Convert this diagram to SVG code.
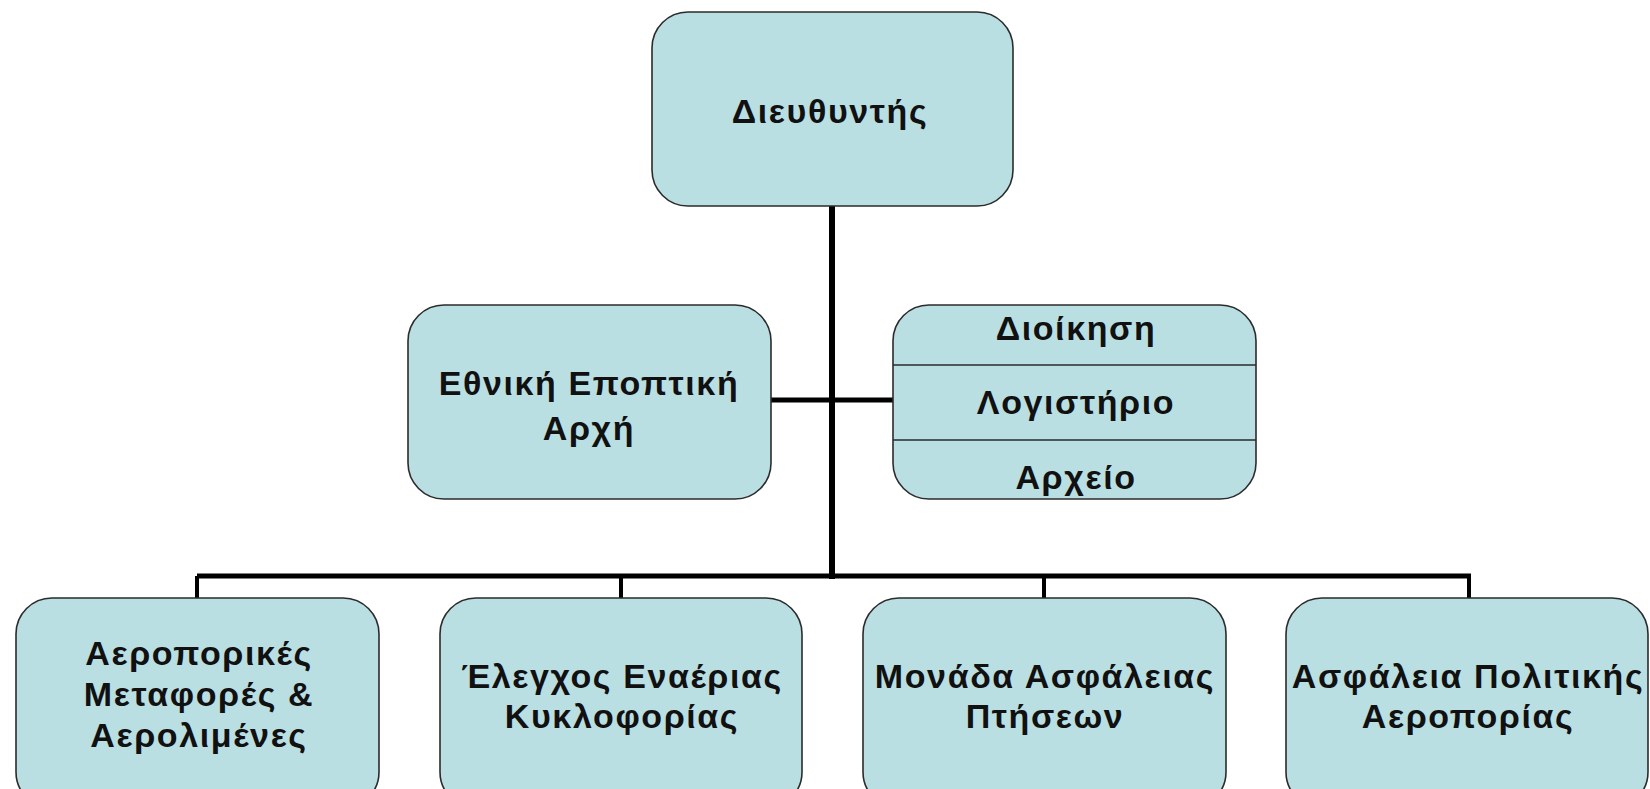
<svg xmlns="http://www.w3.org/2000/svg" width="1650" height="789" viewBox="0 0 1650 789">
<style>
.box{fill:#badfe3;stroke:#2b2b2b;stroke-width:1.6}
.t{font-family:"Liberation Sans",Arial,sans-serif;font-weight:bold;font-size:34px;letter-spacing:1.6px;fill:#111;text-anchor:middle;dominant-baseline:central}
.c{stroke:#000;fill:none}
.div{stroke:#2b2b2b;stroke-width:1.6}
</style>
<rect width="1650" height="789" fill="#fff"/>
<g id="connectors">
<line class="c" x1="832" y1="206" x2="832" y2="579" stroke-width="6"/>
<line class="c" x1="771" y1="400" x2="893" y2="400" stroke-width="5"/>
<line class="c" x1="197" y1="576" x2="1471" y2="576" stroke-width="5"/>
<line class="c" x1="197" y1="576" x2="197" y2="598" stroke-width="4"/>
<line class="c" x1="621" y1="576" x2="621" y2="598" stroke-width="4"/>
<line class="c" x1="1044" y1="576" x2="1044" y2="598" stroke-width="4"/>
<line class="c" x1="1469" y1="576" x2="1469" y2="598" stroke-width="4"/>
</g>
<g id="director">
<rect class="box" x="652" y="12" width="361" height="194" rx="36"/>
<text class="t" x="830" y="111">Διευθυντής</text>
</g>
<g id="eea">
<rect class="box" x="408" y="305" width="363" height="194" rx="36"/>
<text class="t" x="589" y="383">Εθνική Εποπτική</text>
<text class="t" x="589" y="428">Αρχή</text>
</g>
<g id="admin">
<rect class="box" x="893" y="305" width="363" height="194" rx="36"/>
<line class="div" x1="893" y1="365" x2="1256" y2="365"/>
<line class="div" x1="893" y1="440" x2="1256" y2="440"/>
<text class="t" x="1076" y="328">Διοίκηση</text>
<text class="t" x="1076" y="402">Λογιστήριο</text>
<text class="t" x="1076" y="477">Αρχείο</text>
</g>
<g id="n1">
<rect class="box" x="16" y="598" width="363" height="210" rx="36"/>
<text class="t" x="199" y="653">Αεροπορικές</text>
<text class="t" x="199" y="694">Μεταφορές &amp;</text>
<text class="t" x="199" y="735">Αερολιμένες</text>
</g>
<g id="n2">
<rect class="box" x="440" y="598" width="362" height="210" rx="36"/>
<text class="t" x="622" y="676">Έλεγχος Εναέριας</text>
<text class="t" x="622" y="716">Κυκλοφορίας</text>
</g>
<g id="n3">
<rect class="box" x="863" y="598" width="363" height="210" rx="36"/>
<text class="t" x="1045" y="676">Μονάδα Ασφάλειας</text>
<text class="t" x="1045" y="716">Πτήσεων</text>
</g>
<g id="n4">
<rect class="box" x="1286" y="598" width="362" height="210" rx="36"/>
<text class="t" x="1468" y="676">Ασφάλεια Πολιτικής</text>
<text class="t" x="1468" y="716">Αεροπορίας</text>
</g>
</svg>
